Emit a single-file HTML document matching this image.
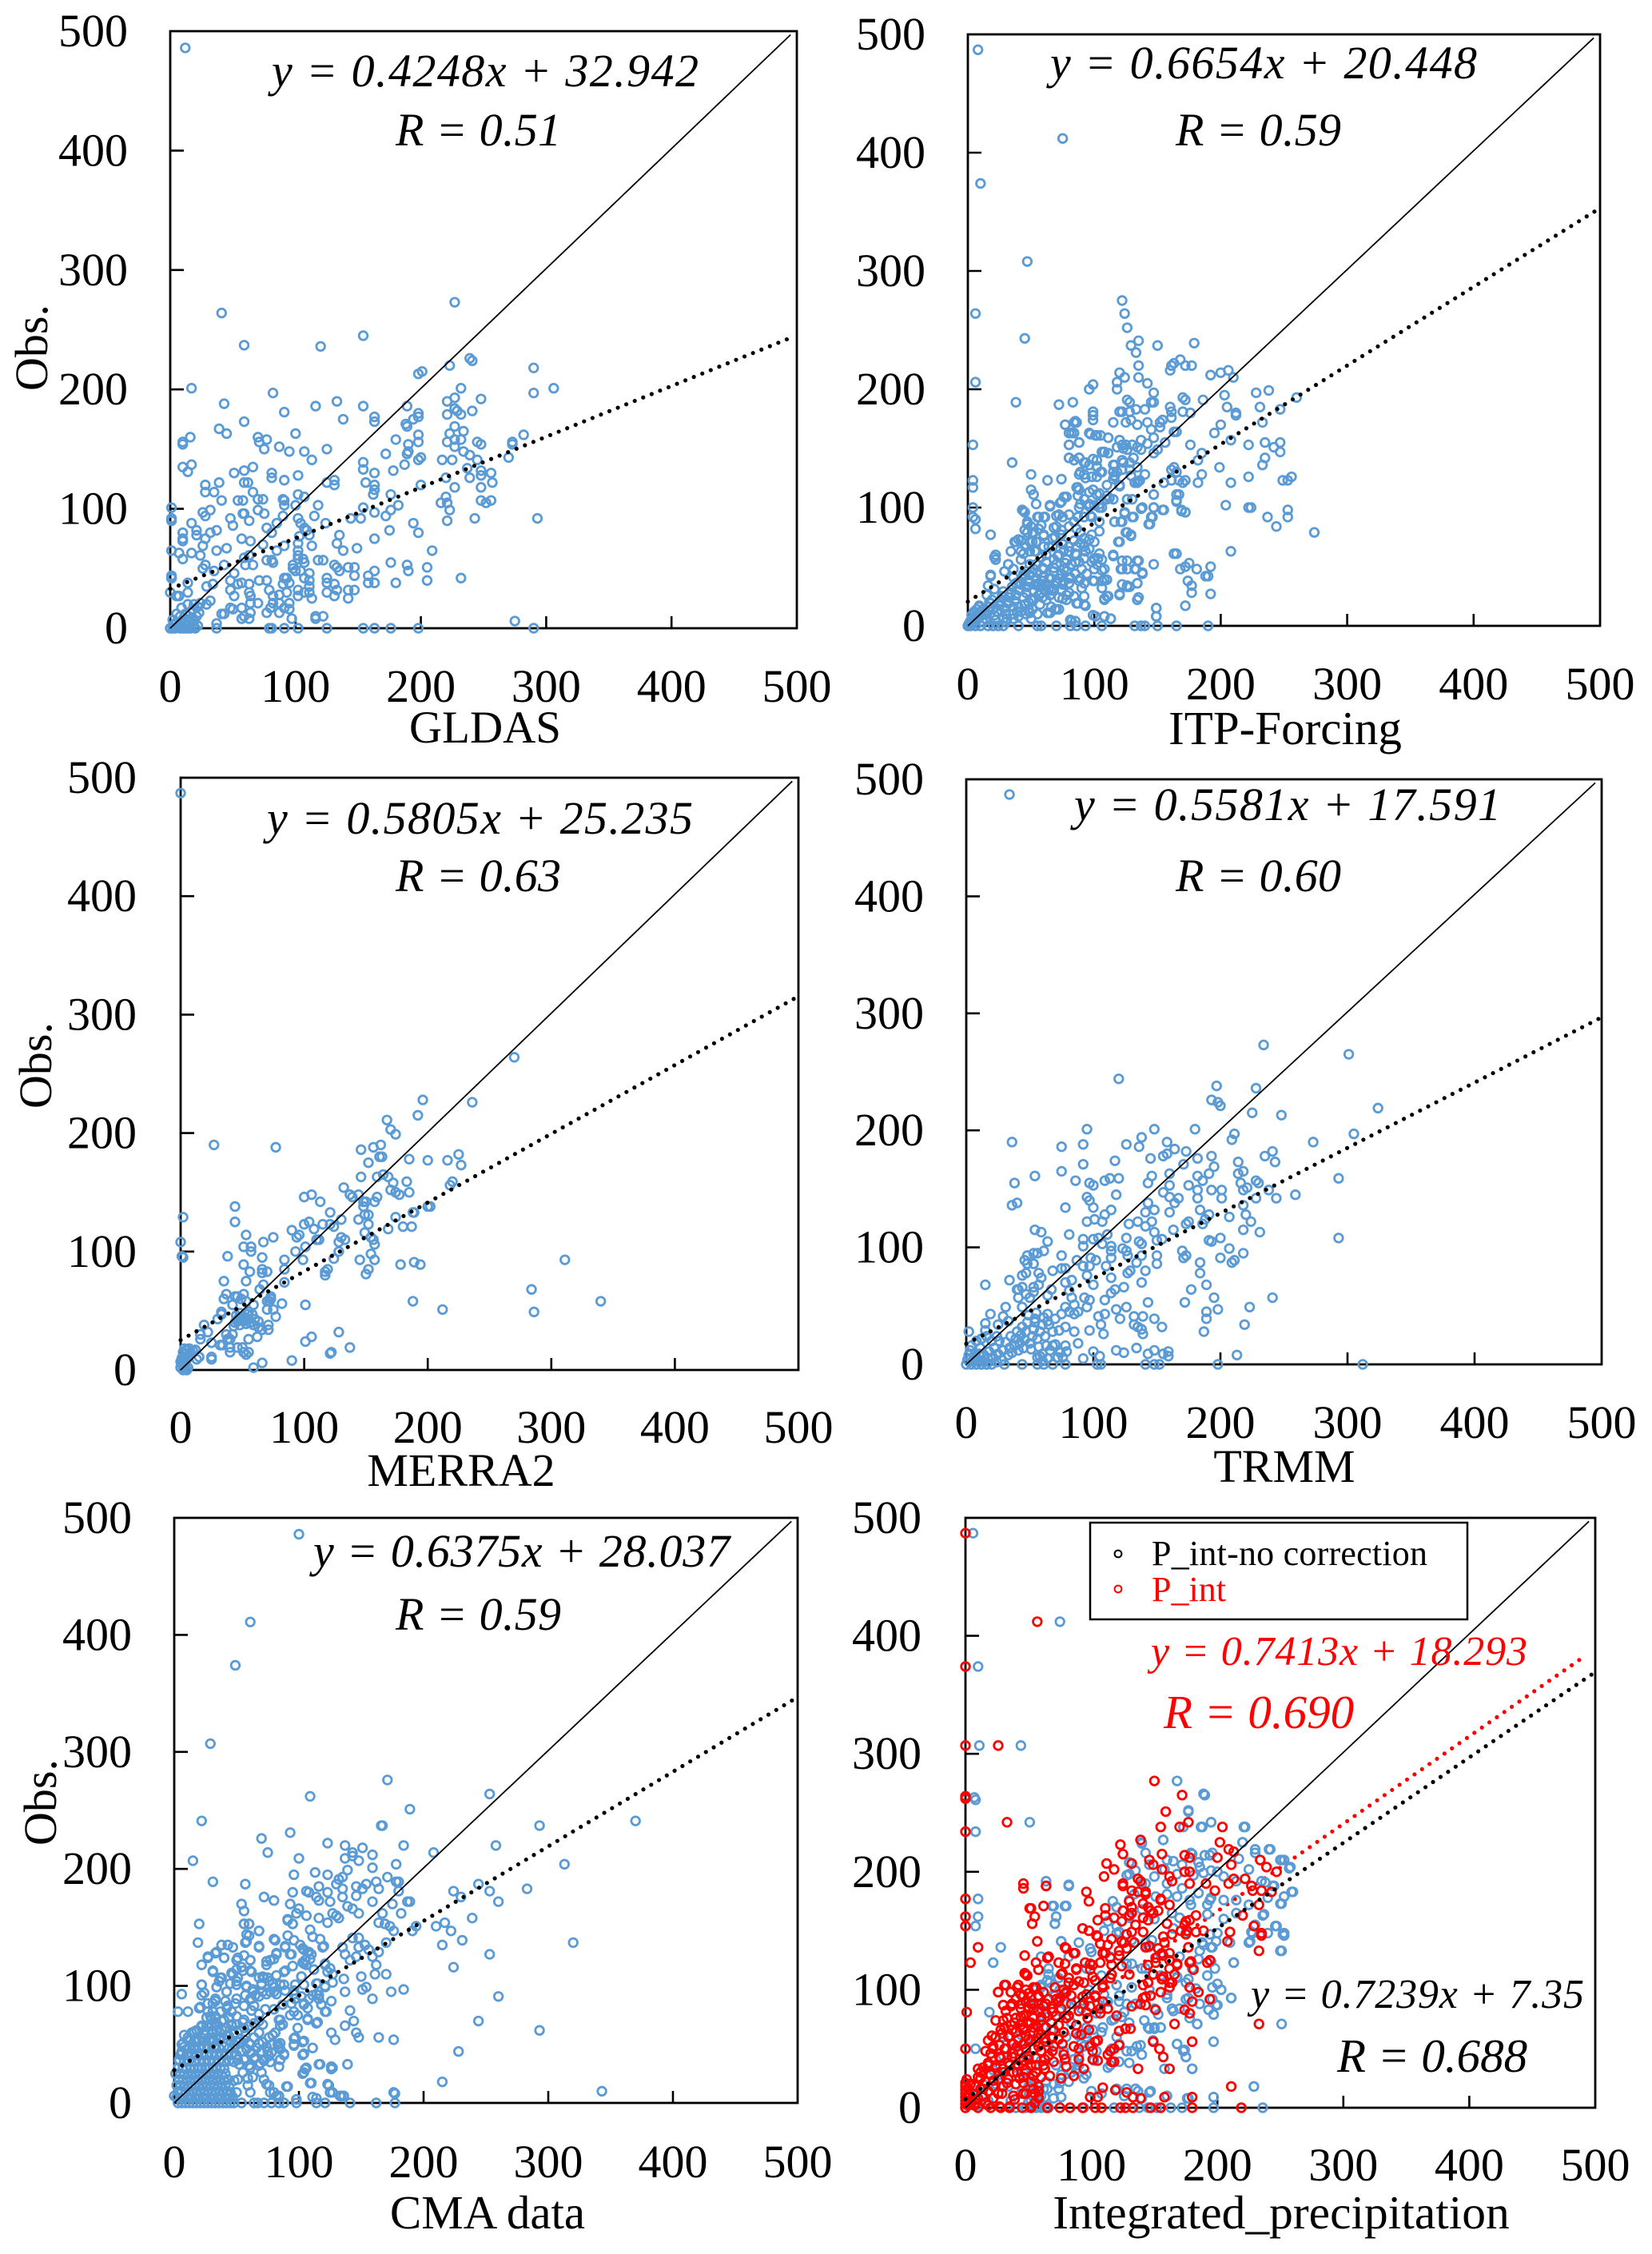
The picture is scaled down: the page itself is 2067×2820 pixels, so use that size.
<!DOCTYPE html>
<html lang="en">
<head>
<meta charset="utf-8">
<title>Precipitation scatter comparison</title>
<style>
html,body{margin:0;padding:0;background:#fff;}
svg{display:block;}
text{font-family:"Liberation Serif",serif;fill:#000;}
.eq{font-style:italic;font-size:58px;}
.ttl{font-size:58px;}
</style>
</head>
<body>
<svg id="chart" xmlns="http://www.w3.org/2000/svg" width="2067" height="2820" viewBox="0 0 2067 2820">
<rect x="0" y="0" width="2067" height="2820" fill="#fff"/>
<g id="marks"></g>
<g>
<text class="ttl" x="607" y="929" text-anchor="middle" style="font-size:57px">GLDAS</text>
<text class="ttl" x="1608" y="931" text-anchor="middle" style="font-size:59px">ITP-Forcing</text>
<text class="ttl" x="577" y="1859" text-anchor="middle">MERRA2</text>
<text class="ttl" x="1607" y="1854" text-anchor="middle">TRMM</text>
<text class="ttl" x="610" y="2788" text-anchor="middle" style="font-size:59px">CMA data</text>
<text class="ttl" x="1603" y="2788" text-anchor="middle" style="font-size:59.5px">Integrated_precipitation</text>
<text class="ttl" transform="translate(59,435) rotate(-90)" text-anchor="middle">Obs.</text>
<text class="ttl" transform="translate(64,1333) rotate(-90)" text-anchor="middle">Obs.</text>
<text class="ttl" transform="translate(70,2255) rotate(-90)" text-anchor="middle">Obs.</text>
<text class="eq" x="340" y="108" textLength="534" lengthAdjust="spacing">y = 0.4248x + 32.942</text>
<text class="eq" x="495" y="182" textLength="207" lengthAdjust="spacing">R = 0.51</text>
<text class="eq" x="1314" y="98" textLength="534" lengthAdjust="spacing">y = 0.6654x + 20.448</text>
<text class="eq" x="1471" y="182" textLength="207" lengthAdjust="spacing">R = 0.59</text>
<text class="eq" x="334" y="1043" textLength="533" lengthAdjust="spacing">y = 0.5805x + 25.235</text>
<text class="eq" x="495" y="1115" textLength="207" lengthAdjust="spacing">R = 0.63</text>
<text class="eq" x="1344" y="1026" textLength="534" lengthAdjust="spacing">y = 0.5581x + 17.591</text>
<text class="eq" x="1471" y="1115" textLength="207" lengthAdjust="spacing">R = 0.60</text>
<text class="eq" x="392" y="1960" textLength="521" lengthAdjust="spacing">y = 0.6375x + 28.037</text>
<text class="eq" x="495" y="2039" textLength="207" lengthAdjust="spacing">R = 0.59</text>
<text class="eq" x="1440" y="2083" textLength="471" lengthAdjust="spacing" style="font-size:52px;fill:#f00">y = 0.7413x + 18.293</text>
<text class="eq" x="1456" y="2162" style="font-size:59px;fill:#f00">R = 0.690</text>
<text class="eq" x="1565" y="2512" textLength="417" lengthAdjust="spacing" style="font-size:52px">y = 0.7239x + 7.35</text>
<text class="eq" x="1673" y="2592" style="font-size:59px">R = 0.688</text>
</g>
<g>
<rect x="1364" y="1905" width="472" height="121" fill="#fff" stroke="#000" stroke-width="2.5"/>
<circle cx="1399" cy="1944" r="4.4" fill="none" stroke="#000" stroke-width="2"/>
<circle cx="1399" cy="1988" r="4.4" fill="none" stroke="#f00" stroke-width="2"/>
<text x="1441" y="1958" textLength="345" lengthAdjust="spacing" style="font-size:44px">P_int-no correction</text>
<text x="1441" y="2003" style="font-size:44px;fill:#f00">P_int</text>
</g>
</svg>
<script>
const tickValues=[0,100,200,300,400,500];
const tickLabels=['0','100','200','300','400','500'];
const diagonalEnd=[495,497];

const gldasFit=[0.4248,32.942];
const itpFit=[0.6654,20.448];
const merraFit=[0.5805,25.235];
const trmmFit=[0.5581,17.591];
const cmaFit=[0.6375,28.037];
const noCorrectionFit=[0.7239,7.35];
const pIntFit=[0.7413,18.293];

const gldasPoints=[[12,486],[41,264],[59,237],[154,245],[120,236],[227,273],[239,226],[241,224],[223,220],[290,218],[198,213],[201,215],[17,201],[82,197],[232,201],[290,197],[306,201],[248,192],[133,190],[43,188],[116,186],[154,186],[189,186],[221,190],[227,193],[221,179],[227,184],[229,182],[232,179],[241,182],[91,181],[138,175],[163,177],[163,173],[198,180],[198,177],[194,175],[188,171],[189,169],[59,173],[39,167],[45,163],[100,163],[70,160],[71,156],[77,158],[16,160],[10,156],[10,154],[87,152],[95,148],[75,150],[107,148],[125,150],[113,141],[180,158],[172,146],[190,154],[189,146],[190,148],[198,162],[198,156],[227,169],[223,163],[227,158],[232,158],[221,156],[234,165],[227,152],[234,148],[239,145],[245,156],[248,154],[282,162],[273,156],[273,154],[270,143],[198,141],[200,143],[187,137],[217,141],[225,141],[245,141],[237,134],[239,126],[248,132],[248,128],[256,130],[257,122],[248,118],[10,135],[17,137],[14,131],[51,130],[59,132],[66,135],[81,130],[81,126],[102,128],[91,124],[59,122],[62,122],[39,122],[28,120],[28,114],[35,114],[66,114],[70,108],[74,108],[41,107],[54,107],[58,107],[90,108],[91,107],[91,103],[102,112],[107,110],[100,103],[125,122],[131,124],[131,120],[118,103],[154,139],[154,133],[156,122],[163,130],[163,120],[163,116],[162,112],[178,132],[176,112],[200,120],[220,126],[227,118],[216,105],[220,110],[221,105],[223,99],[221,90],[248,107],[252,105],[256,107],[243,92],[293,92],[182,103],[176,99],[172,94],[175,82],[163,97],[154,101],[152,92],[163,75],[194,88],[198,80],[209,65],[1,101],[1,92],[1,90],[1,65],[7,63],[10,58],[10,80],[10,73],[10,75],[17,88],[17,63],[21,82],[21,78],[26,97],[28,94],[32,99],[32,80],[37,82],[26,69],[28,75],[24,61],[37,65],[45,67],[48,92],[50,86],[58,96],[59,96],[63,90],[70,99],[75,96],[57,75],[64,73],[74,70],[77,84],[81,80],[85,88],[90,94],[102,92],[104,88],[115,94],[107,84],[109,82],[111,78],[124,88],[135,78],[133,71],[138,65],[149,67],[144,92],[103,77],[102,71],[102,65],[102,61],[102,58],[106,58],[107,55],[113,69],[118,57],[122,57],[91,69],[85,65],[77,57],[81,57],[82,55],[59,59],[63,61],[60,53],[66,53],[28,53],[43,53],[35,48],[26,50],[51,46],[48,40],[54,37],[57,38],[63,37],[71,40],[77,40],[29,35],[34,37],[0,30],[1,42],[14,38],[14,30],[5,27],[7,27],[32,23],[29,20],[48,32],[51,27],[63,30],[64,27],[70,21],[64,21],[57,17],[79,32],[82,27],[91,42],[93,42],[90,37],[95,38],[98,53],[98,50],[100,48],[104,48],[111,46],[107,42],[111,40],[111,35],[107,30],[102,32],[102,27],[111,30],[113,25],[93,30],[87,28],[82,21],[80,17],[77,13],[87,21],[91,17],[95,21],[95,16],[87,13],[97,8],[116,10],[116,8],[122,10],[125,42],[125,38],[125,30],[131,53],[133,51],[135,48],[131,37],[133,32],[131,27],[142,51],[147,51],[147,44],[147,32],[142,32],[142,25],[163,48],[158,44],[158,38],[163,38],[176,55],[180,38],[189,53],[190,48],[205,51],[205,40],[232,42],[275,6],[37,0],[79,0],[91,0],[102,0],[125,0],[154,0],[163,0],[176,0],[198,0],[290,0],[81,0],[37,4],[41,12],[43,12],[48,17],[50,16],[57,8],[63,8],[64,13],[59,10],[0,0],[2,0],[4,0],[6,1],[8,0],[10,0],[12,0],[14,0],[16,0],[18,1],[20,0],[22,2],[3,3],[5,5],[7,3],[9,6],[11,4],[13,7],[15,5],[17,8],[19,6],[21,10],[23,13],[8,10],[12,12],[16,13],[18,16],[22,18],[5,12],[2,7],[9,17],[14,20],[19,20],[24,21],[1,42],[1,44]];

const itpPoints=[[8,487],[75,412],[10,374],[47,308],[6,264],[45,243],[6,206],[4,153],[4,123],[4,117],[4,100],[4,92],[6,90],[6,82],[18,77],[22,60],[22,56],[18,42],[35,138],[38,189],[122,275],[124,264],[126,252],[129,237],[135,241],[133,231],[150,237],[179,239],[135,220],[120,214],[124,210],[135,210],[118,206],[118,200],[142,205],[147,197],[160,216],[161,220],[163,222],[168,225],[172,220],[177,220],[192,212],[200,214],[206,216],[210,210],[96,200],[99,204],[72,187],[83,189],[228,197],[238,199],[260,193],[231,185],[247,183],[203,195],[205,185],[186,191],[170,193],[172,191],[212,180],[212,178],[233,172],[200,170],[195,163],[208,157],[222,153],[235,155],[247,155],[242,151],[247,147],[233,136],[235,142],[199,134],[185,128],[182,121],[222,126],[208,121],[249,123],[253,123],[256,126],[204,102],[222,100],[224,100],[253,98],[253,92],[237,92],[244,84],[274,79],[208,63],[99,181],[99,178],[99,174],[115,172],[120,181],[122,181],[128,189],[126,191],[133,183],[140,183],[128,181],[125,172],[129,174],[134,170],[142,172],[145,166],[147,189],[145,189],[160,185],[161,181],[161,176],[152,172],[154,174],[152,168],[170,181],[176,180],[77,170],[84,172],[86,172],[80,163],[84,163],[96,163],[101,161],[105,161],[111,159],[80,153],[88,155],[80,142],[84,140],[88,142],[106,147],[108,147],[120,157],[122,153],[126,149],[118,151],[130,153],[137,157],[137,149],[147,159],[150,149],[147,146],[156,155],[163,164],[165,164],[176,153],[185,146],[182,140],[92,138],[102,140],[88,128],[92,128],[96,136],[102,134],[106,130],[98,126],[102,126],[116,136],[122,140],[115,130],[118,130],[128,138],[128,132],[134,134],[116,126],[122,132],[140,128],[134,121],[136,123],[132,121],[161,132],[163,134],[165,130],[161,123],[155,121],[167,123],[172,123],[170,121],[147,111],[165,111],[165,105],[169,98],[172,96],[155,98],[126,107],[130,107],[138,100],[147,100],[124,96],[131,92],[116,88],[122,88],[145,92],[143,86],[126,79],[129,77],[120,71],[120,119],[110,119],[115,107],[110,107],[50,128],[50,115],[52,111],[54,103],[65,102],[63,123],[74,124],[74,105],[78,109],[86,117],[88,115],[92,107],[43,98],[45,96],[56,92],[61,92],[72,94],[75,92],[96,113],[102,111],[104,103],[96,103],[100,102],[106,100],[88,100],[92,92],[98,92],[104,88],[104,80],[47,86],[50,84],[56,82],[47,79],[52,79],[60,77],[70,84],[84,88],[80,84],[86,82],[38,71],[42,72],[49,71],[54,71],[49,63],[42,63],[54,63],[60,67],[67,74],[67,67],[74,77],[75,69],[84,72],[92,74],[98,77],[100,71],[86,67],[92,67],[96,65],[80,63],[86,60],[92,57],[34,63],[103,57],[100,57],[106,56],[102,52],[115,60],[108,48],[100,48],[98,54],[32,52],[36,48],[29,46],[42,56],[49,52],[54,52],[62,54],[60,48],[68,46],[76,48],[82,52],[88,54],[122,55],[135,55],[126,48],[122,48],[133,48],[138,44],[147,52],[122,35],[126,33],[128,33],[134,36],[120,26],[135,24],[108,39],[110,39],[106,38],[110,25],[108,23],[100,38],[92,36],[88,38],[92,25],[86,19],[92,18],[81,41],[75,35],[80,28],[84,25],[75,23],[69,14],[72,14],[63,11],[163,61],[165,61],[168,48],[172,50],[175,53],[181,48],[192,50],[190,42],[188,42],[174,38],[177,34],[177,28],[192,27],[172,17],[149,15],[149,8],[101,8],[108,8],[113,6],[28,0],[40,0],[55,0],[58,0],[70,0],[81,0],[86,0],[93,0],[106,0],[132,0],[137,0],[140,0],[150,0],[165,0],[190,0],[82,4],[0,0],[1,2],[2,4],[3,1],[4,6],[5,3],[6,8],[7,5],[8,10],[9,7],[10,12],[11,9],[12,14],[13,11],[3,9],[5,12],[7,14],[9,17],[10,0],[12,3],[14,6],[15,10],[16,13],[17,16],[18,19],[19,22],[20,14],[21,9],[22,5],[24,0],[23,12],[25,17],[26,21],[27,25],[28,29],[29,15],[30,10],[31,6],[32,19],[33,24],[34,28],[35,33],[36,16],[37,21],[38,26],[39,12],[40,8],[41,30],[42,35],[43,40],[44,24],[45,18],[46,28],[47,33],[48,38],[49,43],[50,22],[51,14],[52,30],[53,35],[54,40],[55,45],[56,26],[57,18],[58,33],[59,38],[60,42],[61,30],[62,22],[63,35],[64,40],[65,26],[66,16],[68,30],[70,36],[72,24],[74,30],[76,38],[78,26],[2,0],[6,0],[16,0],[20,0],[42,12],[46,10],[50,6],[36,6],[30,3],[44,44],[38,36],[36,41],[46,46],[52,48],[58,58],[62,60],[72,60],[68,56],[78,56],[74,44],[70,52],[66,40],[56,36],[58,28],[52,22],[48,14],[55,10],[66,30],[72,40],[80,36],[85,44],[90,48],[94,44],[90,32],[78,46]];

const itpExtraPoints=[[77,170],[82,163],[85,173],[97,162],[102,161],[111,159],[88,155],[80,153],[120,157],[125,153],[123,150],[134,151],[142,154],[107,147],[111,146],[80,142],[88,142],[93,138],[99,141],[102,135],[105,130],[89,130],[93,125],[115,136],[116,127],[115,124],[123,138],[131,142],[129,127],[135,122],[120,118],[112,108],[110,110],[87,117],[87,110],[99,115],[104,112],[89,103],[104,100],[96,101],[76,109],[73,104],[65,101],[44,97],[47,88],[55,92],[60,92],[70,93],[80,94],[87,92],[97,93],[58,85],[51,79],[45,81],[40,73],[37,71],[68,83],[74,81],[69,75],[60,76],[51,71],[46,67],[44,61],[53,63],[64,67],[89,79],[96,73],[89,70],[80,67],[76,64],[85,61],[71,59],[93,63],[104,61],[100,56],[85,54],[77,53],[68,49],[59,49],[51,45],[45,43],[40,37],[32,52],[29,46],[21,58],[18,43],[16,34],[89,40],[80,40],[70,38],[64,31],[55,34],[49,37],[106,47],[99,38],[108,39],[106,32],[108,22],[78,22],[87,19],[93,17],[70,14],[65,11],[59,24],[48,20],[40,16],[32,20],[26,20],[49,11],[36,10],[28,6],[17,20],[5,11],[9,16],[15,26],[21,31],[85,4],[81,5],[99,9],[108,8],[113,6],[149,15],[149,8],[134,22],[120,27],[111,25],[126,34],[134,36],[138,45],[121,48],[132,48],[126,55],[134,55],[115,59],[119,71],[125,79],[129,76],[116,88],[121,88],[130,92],[144,86],[146,92],[137,99],[147,100],[154,98],[124,95],[147,111],[126,107],[165,106],[167,111],[169,97],[172,96]];

const merraPoints=[[0,487],[27,190],[77,188],[270,264],[196,228],[236,226],[192,215],[167,211],[170,203],[174,199],[146,186],[156,188],[162,190],[161,180],[163,180],[152,175],[185,178],[200,177],[216,177],[225,182],[227,173],[146,163],[159,163],[164,165],[168,163],[183,159],[220,159],[218,156],[172,158],[170,152],[174,150],[177,148],[185,150],[132,154],[137,148],[139,146],[144,148],[100,146],[106,148],[113,142],[44,138],[44,125],[2,129],[148,142],[148,138],[150,142],[159,146],[157,142],[121,133],[144,127],[149,131],[152,131],[130,127],[124,121],[121,123],[174,129],[188,133],[189,133],[200,138],[202,138],[168,119],[180,121],[187,121],[152,123],[149,116],[154,112],[156,110],[157,106],[100,123],[104,125],[108,119],[115,123],[90,118],[94,112],[96,114],[110,110],[112,110],[53,114],[75,112],[67,108],[51,104],[57,104],[57,100],[128,108],[130,112],[133,110],[128,100],[124,94],[101,104],[93,100],[99,93],[84,93],[84,85],[38,96],[66,95],[51,89],[56,83],[66,85],[66,82],[70,83],[0,108],[1,96],[2,95],[154,98],[145,93],[157,93],[178,89],[189,91],[194,89],[152,85],[150,81],[119,85],[117,80],[117,83],[35,75],[53,75],[84,74],[311,93],[284,68],[286,49],[340,58],[188,58],[212,51],[101,55],[64,68],[67,72],[73,62],[70,58],[73,60],[72,58],[82,56],[59,55],[75,51],[70,51],[77,45],[37,64],[35,60],[44,62],[46,62],[51,64],[42,55],[49,60],[53,58],[55,49],[33,49],[33,47],[44,40],[49,43],[51,45],[55,43],[60,43],[63,41],[46,41],[50,42],[59,38],[63,36],[71,38],[71,34],[66,34],[19,38],[30,43],[22,32],[16,30],[16,26],[37,30],[42,30],[38,26],[25,23],[32,21],[34,21],[40,26],[40,19],[46,19],[50,19],[51,15],[55,15],[40,15],[53,13],[55,26],[62,28],[25,11],[15,11],[13,9],[25,9],[12,17],[101,24],[106,28],[128,32],[137,19],[122,15],[121,14],[90,8],[66,6],[59,2],[0,2],[1,5],[2,8],[3,11],[4,14],[1,10],[2,15],[0,7],[3,4],[4,1],[5,0],[5,17],[6,2],[6,12],[7,18],[8,15],[10,16],[3,18],[2,0],[4,6],[5,9],[47,44],[52,42],[54,47],[48,38],[56,40],[45,46],[58,47],[43,37],[53,39],[48,48]];

const trmmPoints=[[34,487],[234,273],[301,265],[120,244],[197,238],[228,236],[193,226],[198,224],[200,221],[225,215],[248,213],[324,219],[305,197],[95,201],[148,201],[180,201],[211,197],[209,192],[273,190],[36,190],[75,186],[92,188],[126,188],[136,186],[138,194],[158,190],[164,184],[173,182],[155,178],[158,180],[145,176],[117,174],[92,171],[182,176],[193,178],[171,171],[195,169],[235,178],[241,182],[243,173],[214,173],[214,163],[218,165],[75,165],[54,161],[38,155],[36,136],[40,138],[86,157],[97,155],[100,153],[109,157],[113,159],[120,159],[118,145],[143,155],[146,161],[160,163],[160,153],[155,147],[160,143],[164,138],[167,142],[175,153],[182,161],[186,157],[191,163],[182,149],[193,149],[182,142],[201,149],[201,142],[184,132],[191,128],[293,159],[216,155],[218,149],[221,151],[228,157],[230,155],[228,142],[238,149],[244,142],[259,145],[218,136],[220,128],[224,122],[207,126],[218,115],[231,113],[293,108],[95,143],[97,140],[100,134],[78,134],[95,122],[101,124],[107,122],[109,128],[114,132],[107,103],[143,138],[141,130],[148,132],[146,122],[141,118],[128,120],[135,122],[148,113],[160,130],[163,115],[150,106],[154,107],[173,120],[175,122],[186,120],[188,124],[191,106],[193,105],[200,108],[54,115],[59,113],[64,105],[81,111],[92,107],[92,101],[100,107],[104,108],[111,111],[126,108],[114,101],[114,97],[114,91],[123,99],[126,97],[127,93],[138,103],[136,105],[138,93],[150,93],[150,86],[170,97],[173,93],[171,91],[207,99],[218,95],[200,91],[184,87],[184,78],[211,89],[209,87],[46,89],[48,93],[53,95],[56,95],[61,97],[75,93],[53,86],[98,91],[102,89],[92,84],[97,84],[87,89],[110,84],[114,74],[129,80],[127,78],[134,87],[138,70],[141,80],[34,72],[44,76],[47,78],[48,86],[57,78],[59,74],[68,80],[75,82],[78,82],[15,68],[41,64],[40,64],[44,66],[53,66],[57,68],[47,60],[53,62],[67,64],[78,70],[83,72],[81,63],[95,76],[100,68],[41,57],[44,49],[31,49],[50,57],[64,59],[78,49],[83,57],[85,51],[93,57],[97,55],[95,49],[88,45],[85,43],[81,45],[75,43],[109,55],[114,61],[117,64],[124,66],[143,53],[118,47],[126,49],[109,43],[104,41],[121,39],[132,41],[139,41],[148,39],[154,32],[132,34],[135,32],[138,30],[139,26],[106,34],[108,26],[172,53],[177,64],[189,68],[195,57],[198,47],[189,45],[189,39],[187,28],[223,49],[219,34],[241,57],[19,43],[15,35],[15,29],[25,34],[29,41],[33,37],[64,43],[70,39],[64,37],[54,39],[2,28],[73,29],[68,28],[78,32],[85,28],[97,29],[88,18],[134,14],[118,12],[124,10],[100,11],[105,7],[92,5],[143,9],[148,12],[159,11],[159,7],[155,9],[213,8],[68,16],[78,16],[79,11],[60,9],[58,7],[44,0],[56,0],[61,0],[68,0],[78,0],[103,0],[106,0],[141,0],[148,0],[152,0],[198,0],[312,0],[0,0],[1,4],[2,8],[3,12],[4,0],[5,3],[6,7],[8,0],[9,4],[10,9],[11,14],[12,0],[13,3],[14,8],[16,0],[17,5],[18,11],[20,0],[21,6],[22,14],[24,2],[25,9],[26,20],[28,4],[29,12],[30,0],[31,19],[33,8],[34,14],[35,24],[36,10],[38,16],[39,22],[40,28],[41,12],[42,18],[43,25],[44,32],[45,14],[46,21],[47,28],[48,36],[49,42],[50,18],[51,13],[52,24],[53,30],[54,36],[55,44],[56,22],[57,15],[58,28],[60,34],[61,40],[62,24],[63,16],[65,34],[66,12],[70,17],[72,6],[74,10],[76,6],[4,16],[8,20],[12,22],[16,24],[20,20],[24,24],[56,6],[60,3],[64,5]];

const cmaPoints=[[100,486],[61,411],[49,374],[29,307],[22,241],[15,207],[31,189],[6,93],[3,78],[11,78],[20,153],[19,137],[171,276],[109,262],[189,251],[253,264],[167,237],[166,237],[293,237],[370,241],[93,231],[70,226],[75,214],[123,222],[137,220],[151,218],[159,212],[184,220],[208,214],[258,220],[100,209],[137,209],[143,214],[143,211],[148,207],[178,204],[313,204],[96,195],[113,197],[123,195],[159,201],[139,199],[135,193],[171,193],[244,187],[283,183],[224,181],[253,181],[260,172],[230,176],[57,187],[116,185],[106,181],[108,180],[95,180],[123,180],[132,191],[130,187],[135,183],[146,185],[151,183],[154,187],[162,189],[164,183],[178,189],[180,189],[180,181],[72,176],[80,173],[114,176],[116,173],[125,172],[135,176],[146,177],[159,172],[175,170],[187,172],[189,172],[54,170],[56,164],[93,170],[100,166],[98,162],[106,160],[116,158],[127,162],[130,160],[132,158],[139,168],[143,166],[148,162],[167,162],[182,162],[194,151],[164,154],[169,153],[173,151],[176,147],[123,154],[56,153],[60,153],[91,156],[95,153],[68,147],[60,143],[57,137],[68,133],[210,151],[217,154],[222,147],[239,158],[215,135],[231,139],[253,127],[320,137],[191,147],[224,116],[260,91],[244,70],[293,62],[228,44],[215,18],[343,10],[38,135],[43,135],[47,133],[34,129],[27,125],[40,124],[22,118],[50,122],[54,116],[50,114],[61,122],[31,112],[62,112],[47,110],[38,107],[36,104],[50,104],[50,101],[22,101],[42,95],[34,99],[81,139],[91,143],[96,139],[89,133],[93,127],[101,135],[104,131],[108,129],[109,123],[103,120],[106,118],[112,114],[119,133],[82,127],[77,122],[74,118],[80,123],[88,112],[102,108],[121,118],[123,112],[127,110],[135,133],[137,127],[143,141],[148,141],[148,133],[141,122],[146,125],[153,135],[156,131],[164,129],[159,125],[170,137],[162,118],[161,110],[170,110],[150,108],[136,106],[68,107],[72,107],[76,104],[70,101],[80,99],[80,95],[58,99],[63,95],[68,91],[62,89],[74,93],[88,101],[97,101],[96,93],[102,91],[108,89],[114,93],[114,102],[121,99],[116,89],[118,84],[126,87],[104,85],[94,85],[137,95],[141,79],[144,70],[151,97],[154,99],[159,89],[174,95],[184,97],[137,66],[146,60],[148,56],[164,56],[176,54],[126,60],[129,54],[107,81],[107,71],[114,68],[121,78],[99,75],[96,55],[103,52],[111,47],[96,49],[103,41],[105,29],[103,25],[116,33],[126,31],[126,29],[139,33],[84,71],[85,66],[79,58],[83,50],[84,48],[71,52],[78,43],[88,41],[84,31],[62,79],[68,76],[71,67],[56,71],[44,73],[50,67],[42,81],[49,85],[33,87],[20,81],[27,85],[31,78],[30,71],[26,73],[33,69],[5,41],[6,50],[8,58],[14,60],[18,62],[25,58],[31,62],[72,20],[76,15],[80,9],[84,6],[90,14],[98,3],[110,17],[114,4],[124,15],[127,9],[133,6],[136,6],[177,8],[0,6],[3,0],[6,0],[9,0],[12,0],[15,0],[18,0],[21,0],[24,0],[27,0],[30,0],[33,0],[36,0],[39,0],[42,0],[45,0],[48,0],[54,0],[64,0],[67,0],[72,0],[78,0],[84,0],[88,0],[98,0],[114,0],[121,0],[141,0],[162,0],[177,0],[2,5],[5,4],[8,4],[11,5],[14,4],[17,5],[20,4],[23,5],[26,4],[29,5],[32,4],[35,5],[38,4],[41,5],[44,4],[47,5],[3,10],[6,10],[9,9],[12,10],[15,9],[18,10],[21,9],[24,10],[27,9],[30,10],[33,9],[36,10],[39,9],[42,10],[45,9],[50,9],[2,15],[5,15],[8,14],[11,15],[14,14],[17,15],[20,14],[23,15],[26,14],[29,15],[32,14],[35,15],[38,14],[41,15],[44,14],[4,20],[7,20],[10,19],[13,20],[16,19],[19,20],[22,19],[25,20],[28,19],[31,20],[34,19],[37,20],[40,19],[43,20],[48,19],[1,25],[5,25],[8,24],[11,25],[14,24],[17,25],[20,24],[23,25],[26,24],[29,25],[32,24],[35,25],[38,24],[41,25],[3,30],[7,30],[10,29],[13,30],[16,29],[19,30],[22,29],[25,30],[28,29],[31,30],[34,29],[37,30],[40,29],[4,36],[8,35],[12,36],[16,35],[20,36],[24,35],[28,36],[32,35],[36,36],[40,35],[44,36],[48,35],[52,33],[56,37],[60,32],[64,38],[68,32],[72,36],[76,40],[6,42],[10,41],[14,42],[18,41],[22,42],[26,41],[30,42],[34,41],[38,42],[42,41],[46,42],[50,41],[54,44],[58,46],[62,43],[66,47],[70,44],[74,48],[78,50],[8,48],[12,47],[16,48],[20,47],[24,48],[28,47],[32,48],[36,47],[40,48],[44,47],[48,50],[52,52],[56,54],[60,51],[64,56],[68,60],[12,54],[16,53],[20,54],[24,53],[28,54],[32,53],[36,54],[40,55],[44,57],[48,59],[52,62],[56,64],[60,66],[64,68],[68,70],[30,60],[34,61],[38,63],[42,64],[46,66],[34,67],[38,70],[26,66],[30,66],[22,65]];

const cmaExtraPoints=[[33,128],[27,124],[31,113],[40,124],[51,124],[56,126],[61,122],[55,113],[61,113],[37,107],[46,111],[51,107],[22,101],[34,99],[45,102],[42,95],[58,100],[63,97],[71,108],[75,107],[79,102],[85,101],[70,102],[74,121],[77,122],[82,128],[89,134],[94,127],[80,140],[68,134],[68,147],[58,138],[58,144],[56,153],[60,153],[91,157],[95,153],[109,148],[111,142],[117,140],[120,134],[103,132],[107,129],[110,127],[105,122],[104,119],[121,119],[125,115],[95,117],[89,113],[82,109],[22,92],[24,94],[21,82],[33,89],[31,85],[41,87],[37,78],[50,89],[57,92],[61,89],[65,92],[71,95],[77,95],[82,93],[89,96],[96,96],[102,108],[104,101],[115,102],[121,100],[127,103],[97,89],[111,92],[116,92],[104,84],[118,84],[122,78],[107,72],[115,69],[99,64],[93,75],[85,71],[87,67],[96,78],[43,83],[46,78],[50,74],[56,83],[64,83],[73,80],[80,80],[87,84],[55,69],[46,67],[40,71],[29,74],[27,78],[33,74],[22,66],[16,61],[11,56],[7,51],[18,53],[25,62],[30,67],[34,62],[6,44],[4,37],[10,46],[16,46],[23,53],[30,53],[37,55],[43,58],[50,53],[57,58],[61,50],[68,51],[76,56],[81,60],[85,51],[85,46],[70,44],[75,44],[65,39],[57,38],[51,37],[69,34],[77,35],[85,37],[88,42],[61,30],[70,26],[55,26],[59,21],[63,22],[74,16],[91,14],[51,20],[59,15],[77,9],[82,6],[61,9],[104,26],[106,30],[109,17],[123,16],[125,9],[111,5],[134,6],[176,9],[127,30],[117,33],[139,33],[104,42],[111,47],[96,50],[104,53],[97,56]];

const noCorrectionPoints=[[6,487],[75,412],[10,374],[11,307],[44,307],[7,263],[8,261],[51,242],[8,234],[10,177],[10,162],[8,154],[28,136],[22,123],[19,81],[8,50],[168,277],[190,265],[177,251],[188,238],[195,242],[222,238],[140,225],[157,227],[158,202],[220,225],[230,219],[242,219],[251,210],[253,210],[258,204],[260,183],[253,179],[251,173],[247,154],[253,148],[253,146],[251,133],[226,141],[228,148],[236,163],[213,123],[251,71],[211,93],[197,56],[184,71],[199,87],[203,100],[193,83],[197,79],[180,33],[175,43],[173,48],[168,54],[150,67],[146,67],[229,18],[82,188],[64,188],[80,171],[70,171],[72,162],[71,156],[76,141],[180,215],[190,214],[196,216],[172,206],[186,204],[200,200],[205,196],[215,192],[225,202],[235,192],[245,188],[240,178],[225,172],[215,176],[205,176],[195,178],[185,182],[172,186],[160,190],[150,196],[140,190],[130,198],[146,206],[160,210],[168,198],[178,176],[192,164],[205,160],[215,165],[230,155],[240,148],[210,140],[200,148],[195,136],[185,126],[188,140],[175,148],[165,152],[150,160],[140,168],[130,176],[120,170],[110,150],[120,148],[132,142],[145,136],[155,130],[170,128],[180,118],[192,112],[200,105],[168,110],[155,112],[140,118],[128,122],[115,128],[100,132],[90,140],[82,128],[96,118],[108,112],[120,104],[132,102],[146,100],[160,96],[175,92],[186,88],[196,92],[178,76],[165,82],[150,84],[135,88],[122,90],[110,96],[98,100],[86,104],[74,110],[66,118],[60,128],[70,96],[80,88],[92,84],[104,80],[116,74],[130,72],[142,74],[155,68],[120,60],[108,64],[96,68],[84,72],[72,78],[60,84],[50,90],[58,72],[68,66],[80,60],[92,54],[104,48],[116,50],[128,48],[136,52],[140,45],[130,38],[115,36],[102,40],[90,44],[78,48],[66,52],[54,58],[44,62],[38,50],[48,44],[60,40],[72,36],[84,30],[96,28],[100,14],[108,12],[120,16],[126,10],[135,16],[140,8],[147,14],[160,10],[176,8],[197,9],[56,0],[58,5],[60,10],[62,16],[64,22],[52,25],[46,30],[40,34],[34,38],[28,28],[24,20],[34,18],[44,12],[52,6],[40,0],[48,0],[66,0],[94,0],[118,0],[138,0],[145,0],[152,0],[163,0],[172,0],[197,0],[236,0],[70,8],[60,0],[64,0],[76,28],[70,20],[82,22],[88,32],[30,44],[22,32],[14,20],[8,10],[4,4],[0,0],[10,2],[18,6],[26,12],[36,6],[80,42],[90,36],[96,60],[88,90],[75,100],[65,108],[55,100],[40,76],[30,60],[20,46]];

const noCorrectionExtraPoints=[[71,95],[67,106],[60,102],[75,82],[65,77],[84,72],[96,63],[94,52],[86,41],[94,25],[84,30],[75,21],[76,9],[58,1],[65,1],[54,9],[52,16],[88,33],[113,34],[122,39],[132,48],[139,53],[122,54],[149,57],[168,54],[174,49],[175,43],[180,33],[158,33],[145,68],[150,68],[184,71],[211,93],[200,87],[197,79],[203,100],[196,102],[183,101],[175,106],[177,109],[168,111],[181,118],[198,118],[195,124],[213,123],[196,136],[186,133],[189,138],[199,141],[194,147],[225,140],[250,133],[252,147],[246,154],[227,149],[237,164],[250,173],[253,179],[259,183],[244,188],[238,191],[257,203],[250,210],[241,219],[230,216],[220,225],[217,211],[221,238],[195,242],[187,238],[173,238],[177,252],[189,266],[157,227],[140,224],[143,216],[194,214],[185,208],[179,216],[165,209],[130,208],[135,201],[128,197],[117,175],[82,189],[64,192],[69,171],[79,171],[72,162],[71,156],[76,141],[99,135],[66,128],[66,113],[60,104],[120,154],[130,161],[143,140],[148,142],[160,181],[168,179],[164,165],[170,161],[179,172],[192,172],[194,176],[189,199],[195,201],[181,197],[143,190],[134,181],[151,179],[122,149],[113,158],[132,122],[143,118],[120,104],[122,95],[126,81],[118,75],[124,77],[109,68],[101,66],[90,61],[105,88],[113,90],[128,88],[164,84],[170,84],[177,93],[160,93],[153,79],[50,18],[54,21],[58,18],[63,9],[50,5],[65,16],[74,16],[128,16],[137,14],[146,13],[177,8],[229,18]];

const pIntPoints=[[0,487],[57,412],[0,374],[0,307],[26,307],[0,262],[0,264],[33,242],[0,234],[0,177],[0,162],[0,154],[10,136],[4,123],[1,81],[0,50],[150,277],[172,265],[159,251],[155,238],[170,238],[177,242],[204,238],[139,227],[123,223],[125,215],[156,215],[146,210],[149,206],[156,202],[112,207],[118,202],[110,196],[125,190],[174,214],[178,212],[174,200],[178,200],[202,225],[209,219],[213,217],[200,212],[211,206],[234,210],[239,204],[247,200],[209,190],[213,194],[222,194],[227,188],[228,184],[243,183],[46,190],[46,186],[64,188],[51,169],[52,169],[62,171],[55,162],[53,156],[96,183],[98,175],[93,152],[98,150],[104,146],[57,141],[47,129],[56,123],[58,117],[65,127],[80,135],[87,131],[47,114],[49,112],[32,104],[26,98],[36,98],[41,102],[30,87],[105,159],[111,163],[118,161],[111,169],[132,207],[137,194],[139,192],[125,188],[132,184],[143,183],[137,183],[130,175],[125,167],[132,165],[141,173],[147,167],[153,167],[155,177],[162,196],[164,192],[178,190],[191,190],[198,184],[183,163],[178,159],[174,155],[176,150],[183,149],[171,150],[164,147],[157,145],[189,150],[208,141],[210,149],[220,163],[229,154],[235,148],[235,146],[233,133],[233,172],[235,184],[233,71],[116,143],[124,141],[128,147],[135,155],[141,149],[145,159],[128,135],[122,129],[111,131],[116,121],[107,123],[101,121],[146,137],[153,135],[157,129],[151,123],[145,121],[162,125],[168,121],[178,123],[181,117],[166,113],[157,111],[149,113],[178,102],[185,98],[162,102],[155,98],[164,106],[194,92],[192,123],[194,125],[180,90],[174,83],[178,80],[151,83],[166,71],[180,56],[143,94],[139,88],[143,87],[132,86],[127,67],[131,67],[149,56],[154,50],[157,43],[162,33],[137,33],[211,18],[109,17],[119,15],[128,13],[99,9],[105,9],[133,9],[139,8],[158,9],[180,9],[65,0],[75,0],[83,0],[93,0],[103,0],[108,0],[123,0],[127,0],[133,0],[147,0],[155,0],[180,0],[219,0],[76,113],[82,110],[88,117],[95,123],[99,117],[86,104],[80,98],[74,90],[94,106],[103,108],[109,104],[116,113],[93,94],[103,94],[109,90],[99,86],[90,82],[82,78],[107,80],[97,76],[113,84],[120,78],[122,65],[103,56],[99,52],[118,50],[113,45],[86,52],[78,45],[90,41],[80,35],[86,27],[76,25],[70,39],[63,33],[101,41],[116,39],[0,0],[0,3],[0,6],[0,9],[0,12],[0,15],[0,18],[0,21],[1,24],[2,2],[2,10],[2,16],[4,6],[4,20],[6,12],[8,4],[8,18],[10,8],[10,26],[12,16],[12,30],[14,10],[14,34],[16,22],[16,4],[18,14],[18,38],[20,28],[20,46],[22,8],[22,18],[22,52],[24,34],[24,60],[26,24],[26,12],[28,42],[28,66],[30,30],[30,18],[30,74],[32,50],[32,82],[34,38],[34,24],[34,60],[36,70],[36,86],[38,10],[38,46],[38,30],[38,54],[40,20],[40,64],[40,76],[40,92],[42,36],[42,48],[42,58],[44,70],[44,84],[44,96],[46,26],[46,40],[46,54],[46,66],[46,78],[48,90],[48,100],[48,12],[48,32],[50,44],[50,58],[50,72],[50,84],[52,94],[52,22],[52,36],[54,50],[54,64],[54,76],[54,88],[54,102],[56,30],[56,42],[56,56],[56,70],[58,82],[58,94],[58,14],[60,26],[60,48],[60,62],[60,74],[62,86],[62,98],[62,36],[64,56],[64,68],[64,80],[66,92],[66,44],[68,60],[68,72],[68,84],[70,52],[70,66],[72,78],[72,92],[74,58],[74,70],[76,84],[78,64],[78,100],[80,76],[84,88],[88,70],[92,62],[96,96],[98,66],[35,0],[20,0],[10,0],[28,0],[45,0],[52,0],[55,4],[58,8],[55,12],[58,18]];

const pIntExtraPoints=[[132,170],[143,181],[145,170],[155,176],[162,172],[130,163],[141,161],[149,165],[160,156],[124,158],[132,149],[126,140],[134,140],[143,136],[158,140],[156,131],[151,127],[162,131],[175,147],[175,158],[177,136],[179,124],[168,122],[162,118],[156,109],[162,106],[141,104],[145,106],[141,93],[147,95],[130,113],[124,120],[115,127],[109,131],[122,133],[113,138],[107,139],[105,145],[115,110],[109,102],[99,122],[88,118],[90,107],[82,106],[101,111],[94,88],[103,95],[107,84],[96,81],[88,63],[84,95],[75,93],[79,97],[71,102],[77,114],[74,123],[79,122],[86,131],[79,136],[66,128],[58,117],[48,113],[69,81],[64,88],[56,102],[50,97],[42,104],[31,104],[26,98],[30,87],[44,88],[54,84],[60,77],[24,74],[33,76],[44,77],[52,72],[21,61],[29,63],[37,66],[48,61],[58,63],[18,57],[27,53],[37,54],[48,50],[58,52],[69,59],[69,48],[77,54],[16,48],[27,43],[37,43],[50,41],[63,41],[79,41],[90,50],[94,33],[105,57],[101,48],[105,40],[118,39],[115,48],[122,53],[18,36],[30,33],[41,30],[54,27],[67,27],[76,25],[10,33],[12,25],[22,23],[33,21],[46,21],[58,9],[14,16],[29,12],[39,7],[7,2],[18,2],[27,1],[35,1],[52,1],[46,12],[46,95],[58,95],[52,88],[37,88],[48,79],[39,72],[31,68],[54,68],[46,68],[35,61],[41,52],[31,50],[22,50],[52,57],[63,59],[24,36],[35,36],[46,36],[56,36],[43,25],[54,16]];

const layouts=[
 {id:'gldas',L:213,R:997,T:39,B:786,labelRight:160,labelBase:878,series:[{pts:gldasPoints,color:'#5b9bd5',name:'gldas'}],fits:[{fit:gldasFit,color:'#000',to:498}]},
 {id:'itp-forcing',L:1211,R:2002,T:43,B:783,labelRight:1158,labelBase:875,series:[{pts:itpPoints.concat(itpExtraPoints),color:'#5b9bd5',name:'itp'}],fits:[{fit:itpFit,color:'#000',to:498}]},
 {id:'merra2',L:226,R:999,T:973,B:1714,labelRight:171,labelBase:1805,series:[{pts:merraPoints,color:'#5b9bd5',name:'merra2'}],fits:[{fit:merraFit,color:'#000',to:498}]},
 {id:'trmm',L:1209,R:2004,T:975,B:1707,labelRight:1156,labelBase:1799,series:[{pts:trmmPoints,color:'#5b9bd5',name:'trmm'}],fits:[{fit:trmmFit,color:'#000',to:498}]},
 {id:'cma',L:218,R:998,T:1899,B:2631,labelRight:165,labelBase:2724,series:[{pts:cmaPoints.concat(cmaExtraPoints),color:'#5b9bd5',name:'cma'}],fits:[{fit:cmaFit,color:'#000',to:498}]},
 {id:'integrated',L:1208,R:1996,T:1899,B:2637,labelRight:1153,labelBase:2728,series:[{pts:noCorrectionPoints.concat(noCorrectionExtraPoints),color:'#5b9bd5',name:'no-correction'},{pts:pIntPoints.concat(pIntExtraPoints),color:'#ff0000',name:'p-int'}],fits:[{fit:pIntFit,color:'#f00',to:490,under:1},{fit:noCorrectionFit,color:'#000',to:498}]}
];

const NS='http://www.w3.org/2000/svg';
const root=document.getElementById('marks');
function make(tag,attrs,parent){
  const el=document.createElementNS(NS,tag);
  for(const k in attrs){el.setAttribute(k,attrs[k]);}
  parent.appendChild(el);
  return el;
}
function fitLine(p,f,g){
  const x=(v)=>p.L+(v/500)*(p.R-p.L);
  const y=(v)=>p.B-(v/500)*(p.B-p.T);
  const el=make('line',{x1:x(0),y1:y(f.fit[1]),x2:x(f.to),y2:y(f.fit[0]*f.to+f.fit[1]),stroke:f.color,'stroke-width':5.2,'stroke-linecap':'round','stroke-dasharray':'0 11.4'},g);
  
  
}
layouts.forEach(function(p){
  const x=(v)=>p.L+(v/500)*(p.R-p.L);
  const y=(v)=>p.B-(v/500)*(p.B-p.T);
  const g=make('g',{},root);
  
  
  const frame=make('rect',{x:p.L,y:p.T,width:p.R-p.L,height:p.B-p.T,fill:'none',stroke:'#000','stroke-width':2.8},g);
  
  
  tickValues.forEach(function(v,i){
    if(v>0&&v<500){
      const xt=make('line',{x1:x(v),y1:p.B,x2:x(v),y2:p.B-15,stroke:'#000','stroke-width':2.6},g);
      
      
      const yt=make('line',{x1:p.L,y1:y(v),x2:p.L+17,y2:y(v),stroke:'#000','stroke-width':2.6},g);
      
      
    }
    const xl=make('text',{x:x(v),y:p.labelBase,'text-anchor':'middle','font-size':58},g);
    xl.textContent=tickLabels[i];
    
    
    const yl=make('text',{x:p.labelRight,y:y(v)+19,'text-anchor':'end','font-size':58},g);
    yl.textContent=tickLabels[i];
    
    
  });
  p.fits.filter(function(f){return f.under;}).forEach(function(f){fitLine(p,f,g);});
  p.series.forEach(function(s){
    const sg=make('g',{fill:'none',stroke:s.color,'stroke-width':2.8},g);
    
    
    s.pts.forEach(function(pt){
      const c=make('circle',{cx:x(pt[0]),cy:y(pt[1]),r:5.3},sg);
      
      
    });
  });
  const diag=make('line',{x1:x(0),y1:y(0),x2:x(diagonalEnd[0]),y2:y(diagonalEnd[1]),stroke:'#000','stroke-width':1.8},g);
  
  
  p.fits.filter(function(f){return !f.under;}).forEach(function(f){fitLine(p,f,g);});
});
</script>
</body>
</html>
